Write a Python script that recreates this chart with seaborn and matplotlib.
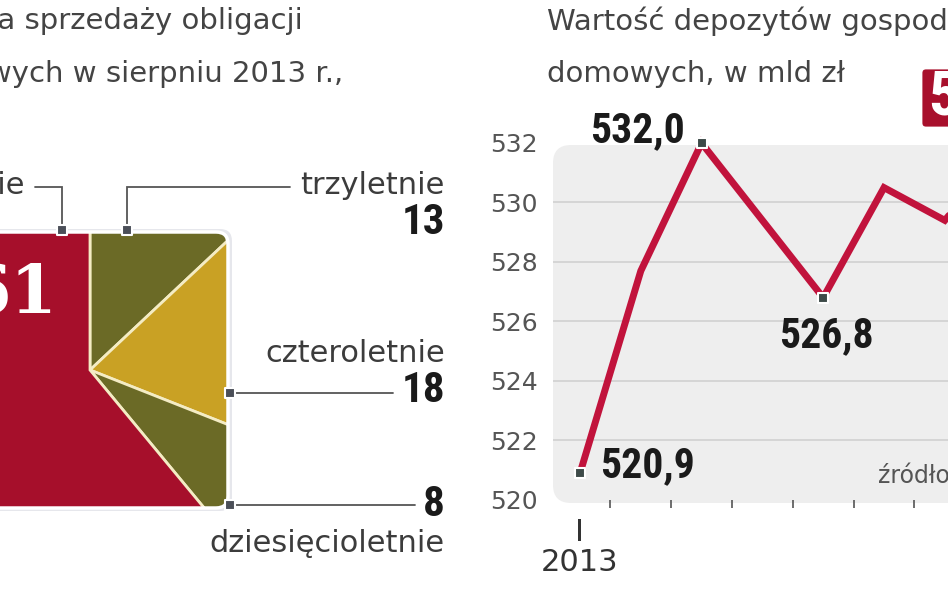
import numpy as np
import pandas as pd
import matplotlib
matplotlib.use("Agg")
import matplotlib.pyplot as plt
import seaborn as sns
from matplotlib.patches import FancyBboxPatch

# ---------------- data ----------------
bond_types = ["trzyletnie", "czteroletnie", "dziesięcioletnie", "dwuletnie"]
bond_shares = [13, 18, 8, 61]
bond_colors = ["#6b6a26", "#c9a124", "#6b6a26", "#a60f2b"]

months = ["I", "II", "III", "IV", "V", "VI", "VII", "VIII"]
deposits = [520.9, 527.7, 532.0, 529.4, 526.8, 530.5, 529.4, 531.8]
labelled_idx = [0, 2, 4]
y_ticks = [520, 522, 524, 526, 528, 530, 532]
year_label = "2013"

title_left = ["Struktura sprzedaży obligacji", "skarbowych w sierpniu 2013 r.,"]
title_right = ["Wartość depozytów gospodarstw", "domowych, w mld zł"]
source = "źródło: NBP"

# ---------------- style ----------------
sns.set_theme(style="white")
plt.rcParams["font.family"] = ["DejaVu Sans"]
BOLD = ["Roboto Condensed", "Liberation Sans Narrow", "Roboto", "DejaVu Sans"]
TXT = "#3c3c3c"

W, H = 948, 593
fig = plt.figure(figsize=(W / 100, H / 100), dpi=100)
fig.patch.set_facecolor("white")


def Y(y):
    return H - y


def fmt(v):
    return f"{v:.1f}".replace(".", ",")


# overlay axes in pixel coordinates
ax0 = fig.add_axes([0, 0, 1, 1])

# ---------------- left panel: square pie ----------------
cx, cy = 90, Y(370)
wedges, _ = ax0.pie(bond_shares, colors=bond_colors, startangle=90, counterclock=False,
                    center=(cx, cy), radius=420,
                    wedgeprops=dict(edgecolor="#f4ecc4", linewidth=2), frame=False)
ax0.set_xlim(0, W)
ax0.set_ylim(0, H)
ax0.set_aspect("auto")
ax0.set_axis_off()

box_kw = dict(boxstyle="round,pad=0,rounding_size=12")
shadow = FancyBboxPatch((-60, Y(511)), 292, 282, facecolor="#d6d7e0", edgecolor="none",
                        alpha=0.6, zorder=0.5, **box_kw)
ax0.add_patch(shadow)
clip = FancyBboxPatch((-60, Y(508)), 288, 276, facecolor="none", edgecolor="none", **box_kw)
ax0.add_patch(clip)
for w in wedges:
    w.set_clip_on(True)
    w.set_clip_path(clip)
frame = FancyBboxPatch((-60, Y(508)), 288, 276, facecolor="none", edgecolor="white",
                       linewidth=2.5, zorder=3, **box_kw)
ax0.add_patch(frame)

ax0.text(58, Y(294), str(bond_shares[3]), ha="right", va="center", color="white",
         fontsize=48, fontweight="bold", family=["DejaVu Serif"], zorder=4)

lc = "#555555"
leaders = [
    [(35, 187), (62, 187), (62, 230)],
    [(290, 187), (127, 187), (127, 230)],
    [(230, 393), (393, 393)],
    [(230, 505), (415, 505)],
]
for pts in leaders:
    xs = [p[0] for p in pts]
    ys = [Y(p[1]) for p in pts]
    ax0.plot(xs, ys, color=lc, lw=1.3, zorder=4, solid_joinstyle="miter")
    end = pts[-1] if len(pts) == 3 else pts[0]
    ax0.scatter([end[0]], [Y(end[1])], marker="s", s=42, c="#4b4f58",
                edgecolors="white", linewidths=1.5, zorder=6)

lab_kw = dict(ha="right", va="center", fontsize=22, color=TXT)
num_kw = dict(ha="right", va="center", fontsize=31, color="#1a1a1a", fontweight="bold",
              family=BOLD)
ax0.text(25, Y(185), bond_types[3], **lab_kw)
ax0.text(445, Y(185), bond_types[0], **lab_kw)
ax0.text(445, Y(222), str(bond_shares[0]), **num_kw)
ax0.text(445, Y(354), bond_types[1], **lab_kw)
ax0.text(445, Y(391), str(bond_shares[1]), **num_kw)
ax0.text(445, Y(504), str(bond_shares[2]), **num_kw)
ax0.text(445, Y(543), bond_types[2], **lab_kw)

# titles
tkw = dict(va="center", fontsize=21, color="#444")
ax0.text(303, Y(21), title_left[0], ha="right", **tkw)
ax0.text(343, Y(74), title_left[1], ha="right", **tkw)
ax0.text(547, Y(21), title_right[0], ha="left", **tkw)
ax0.text(547, Y(74), title_right[1], ha="left", **tkw)

# ---------------- right panel: line chart ----------------
bg = FancyBboxPatch((553, Y(503)), 600, 358, boxstyle="round,pad=0,rounding_size=18",
                    facecolor="#eeeeee", edgecolor="none", zorder=0)
ax0.add_patch(bg)

ax0.text(878, Y(476), source, ha="left", va="center", fontsize=17, color="#555")

# red highlight box with the latest value
hb = FancyBboxPatch((921, Y(128)), 130, 60, boxstyle="round,pad=0,rounding_size=5",
                    facecolor="#a8102c", edgecolor="white", linewidth=2, zorder=5)
ax0.add_patch(hb)
ax0.text(928, Y(98), fmt(deposits[-1]), ha="left", va="center", fontsize=44,
         color="white", fontweight="bold", family=BOLD, zorder=6)

sx, x0px = 60.8, 580
ax_left, ax_right = 553, 1100
ax1 = fig.add_axes([ax_left / W, 1 - 500 / H, (ax_right - ax_left) / W, (500 - 143) / H])
ax1.patch.set_alpha(0)

df = pd.DataFrame({"m": np.arange(len(months)), "v": deposits})
for v in y_ticks[1:-1]:
    ax1.axhline(v, color="#d5d5d5", lw=1.4, zorder=1)
sns.lineplot(data=df, x="m", y="v", ax=ax1, color="#c1133c", linewidth=5,
             solid_joinstyle="miter", clip_on=False, zorder=4)
ax1.scatter(labelled_idx, [deposits[i] for i in labelled_idx], marker="s", s=42,
            c="#3d4a48", edgecolors="white", linewidths=1.5, zorder=6, clip_on=False)

val_kw = dict(textcoords="offset pixels", fontsize=30, fontweight="bold",
              color="#1a1a1a", family=BOLD, va="center", annotation_clip=False)
offsets = {0: ((20, 8), "left"), 2: ((-17, 12), "right"), 4: ((3, -38), "center")}
for i in labelled_idx:
    off, ha = offsets[i]
    ax1.annotate(fmt(deposits[i]), (i, deposits[i]), xytext=off, ha=ha, **val_kw)

ax1.set_xlim((ax_left - x0px) / sx, (ax_right - x0px) / sx)
ax1.set_ylim(y_ticks[0], y_ticks[-1])
ax1.set_yticks(y_ticks)
ax1.set_yticklabels([str(v) for v in y_ticks])
ax1.tick_params(axis="y", length=0, pad=11, labelsize=18, labelcolor="#555")
ax1.set_xticks([0])
ax1.set_xticklabels([months[0] + "\n" + year_label], linespacing=1.05)
ax1.set_xticks(np.arange(len(months)) + 0.5, minor=True)
ax1.tick_params(axis="x", which="major", length=0, pad=13, labelsize=22, labelcolor="#333")
ax1.tick_params(axis="x", which="minor", length=6, width=1.2, color="#555", direction="out",
                bottom=True)
ax1.set_xlabel("")
ax1.set_ylabel("")
for s in ax1.spines.values():
    s.set_visible(False)

fig.savefig("out.png", dpi=100)
